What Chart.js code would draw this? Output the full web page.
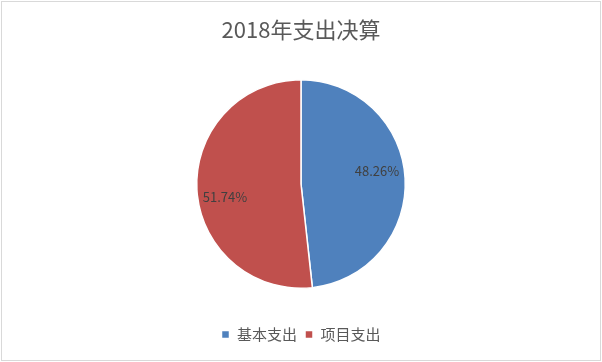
<!DOCTYPE html>
<html><head><meta charset="utf-8">
<script src="https://cdn.jsdelivr.net/npm/chart.js@4/dist/chart.umd.min.js"></script>
<style>html,body{margin:0;padding:0;background:#fff;}#c{position:absolute;left:0;top:0;}</style>
</head><body>
<canvas id="c" width="602" height="362"></canvas>
<script>
const titleText = '2018年支出决算';
const categories = ['基本支出', '项目支出'];
const values = [48.26, 51.74];
const colors = ['#4F81BD', '#C0504D'];
const FONT = '"Noto Sans CJK SC", "Noto Sans", sans-serif';
const LABEL_ANGLE_SHIFT = -0.12;
const LABEL_RADIUS = 0.74;

const frame = {
  id: 'frame',
  beforeDraw(chart) {
    const ctx = chart.ctx;
    ctx.save();
    ctx.fillStyle = '#fff';
    ctx.fillRect(0, 0, chart.width, chart.height);
    ctx.strokeStyle = '#d9d9d9';
    ctx.lineWidth = 1;
    ctx.strokeRect(1.5, 1.5, chart.width - 3, chart.height - 3);
    ctx.restore();
  }
};

const pctLabels = {
  id: 'pctLabels',
  afterDatasetsDraw(chart) {
    const ctx = chart.ctx;
    const meta = chart.getDatasetMeta(0);
    ctx.save();
    ctx.font = '13px ' + FONT;
    ctx.fillStyle = '#404040';
    ctx.textAlign = 'center';
    ctx.textBaseline = 'middle';
    meta.data.forEach((arc, i) => {
      const p = arc.getProps(['x', 'y', 'startAngle', 'endAngle', 'outerRadius'], true);
      const mid = (p.startAngle + p.endAngle) / 2 + LABEL_ANGLE_SHIFT;
      const r = p.outerRadius * LABEL_RADIUS;
      ctx.fillText(values[i].toFixed(2) + '%', p.x + Math.cos(mid) * r, p.y + Math.sin(mid) * r);
    });
    ctx.restore();
  }
};

new Chart(document.getElementById('c'), {
  type: 'pie',
  data: {
    labels: categories,
    datasets: [{ data: values, backgroundColor: colors, borderColor: '#fff', borderWidth: 1.5 }]
  },
  options: {
    responsive: false,
    animation: false,
    layout: { padding: { top: 1, bottom: 10, left: 0, right: 0 } },
    plugins: {
      title: { display: true, text: titleText, color: '#595959', font: { family: FONT, size: 22, weight: 'normal' }, padding: { top: 15, bottom: 36.6 } },
      legend: {
        display: true, position: 'bottom',
        title: { display: true, text: ' ', font: { size: 1 }, padding: { top: 0, bottom: 28.8 } },
        labels: { color: '#595959', font: { family: FONT, size: 15 }, usePointStyle: true, pointStyle: 'rect', boxWidth: 8, boxHeight: 8, padding: 8 }
      },
      tooltip: { enabled: false }
    }
  },
  plugins: [frame, pctLabels]
});
</script>
</body></html>
